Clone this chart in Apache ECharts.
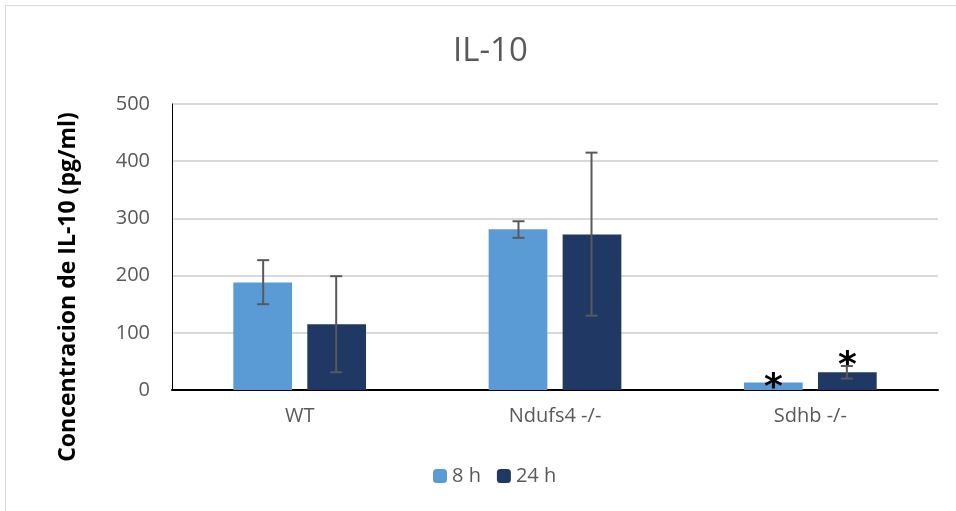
<!DOCTYPE html>
<html>
<head>
<meta charset="utf-8">
<script src="https://cdn.jsdelivr.net/npm/echarts@6/dist/echarts.min.js"></script>
<style>
  html, body { margin: 0; padding: 0; background: #fff; }
  #frame { position: absolute; left: 5px; top: 5px; width: 1000px; height: 520px; border: 1px solid #d9d9d9; }
  #main { position: absolute; left: 0; top: 0; width: 956px; height: 511px; }
</style>
</head>
<body>
<div id="frame"></div>
<div id="main"></div>
<script>
const categories = ['WT', 'Ndufs4 -/-', 'Sdhb -/-'];
const seriesNames = ['8 h', '24 h'];
const values8h = [188, 281, 13];
const values24h = [115, 272, 31];
// error bar ranges [low, high]
const err8h = [[150, 227], [266, 295], null];
const err24h = [[31, 199], [130, 415], [20, 42]];
// significance marks
const mark8h = ['', '', '*'];
const mark24h = ['', '', '*'];
const yTicks = [0, 100, 200, 300, 400, 500];

const colors = ['#5b9bd5', '#203864'];

const chart = echarts.init(document.getElementById('main'));

const errorSeries = (errs, idx) => ({
  type: 'custom',
  name: seriesNames[idx] + ' err',
  z: 10,
  data: errs.map((e, i) => e ? [i, e[0], e[1]] : null).filter(d => d),
  renderItem: function (params, api) {
    const lo = api.coord([api.value(0), api.value(1)]);
    const hi = api.coord([api.value(0), api.value(2)]);
    const bandW = api.size([1, 0])[0];
    const offset = (idx === 0 ? -1 : 1) * bandW * 0.143;
    const x = lo[0] + offset;
    const half = 6;
    const st = { stroke: '#595959', lineWidth: 2 };
    return {
      type: 'group',
      children: [
        { type: 'line', shape: { x1: x, y1: lo[1], x2: x, y2: hi[1] }, style: st },
        { type: 'line', shape: { x1: x - half, y1: lo[1], x2: x + half, y2: lo[1] }, style: st },
        { type: 'line', shape: { x1: x - half, y1: hi[1], x2: x + half, y2: hi[1] }, style: st }
      ]
    };
  }
});

const markLabel = (marks, dist) => ({
  show: true,
  position: 'top',
  distance: dist,
  formatter: p => marks[p.dataIndex],
  fontFamily: 'DejaVu Sans',
  fontSize: 36,
  fontWeight: 'bold',
  color: '#000'
});

const option = {
  animation: false,
  title: {
    text: 'IL-10',
    left: 448,
    top: 30,
    textStyle: { fontFamily: 'Open Sans', fontSize: 33, fontWeight: 'normal', color: '#595959' }
  },
  legend: {
    data: seriesNames,
    bottom: 20,
    left: 428,
    itemWidth: 14,
    itemHeight: 14,
    itemGap: 16,
    textStyle: { fontFamily: 'Open Sans', fontSize: 20, color: '#595959' }
  },
  grid: { left: 172, right: 18, top: 104, bottom: 121 },
  xAxis: {
    type: 'category',
    data: categories,
    axisLine: { lineStyle: { color: '#000', width: 2 } },
    axisTick: { show: false },
    axisLabel: { fontFamily: 'Open Sans', fontSize: 20, color: '#595959', margin: 16 }
  },
  yAxis: {
    type: 'value',
    min: 0,
    max: 500,
    interval: 100,
    name: 'Concentracion de IL-10 (pg/ml)',
    nameLocation: 'middle',
    nameGap: 92,
    nameTextStyle: {
      fontFamily: 'Open Sans', fontSize: 23, fontWeight: 'bold', color: '#000',
      padding: [0, 80, 0, 0]
    },
    axisLine: { show: true, lineStyle: { color: '#000', width: 1 } },
    axisLabel: { fontFamily: 'Open Sans', fontSize: 20, color: '#595959', margin: 22 },
    splitLine: { lineStyle: { color: '#d9d9d9', width: 2 } }
  },
  series: [
    {
      name: seriesNames[0],
      type: 'bar',
      data: values8h,
      barWidth: '23%',
      barGap: '26%',
      itemStyle: { color: colors[0] },
      label: markLabel(mark8h, -24)
    },
    {
      name: seriesNames[1],
      type: 'bar',
      data: values24h,
      barWidth: '23%',
      itemStyle: { color: colors[1] },
      label: markLabel(mark24h, -12)
    },
    errorSeries(err8h, 0),
    errorSeries(err24h, 1)
  ]
};

chart.setOption(option);
</script>
</body>
</html>
